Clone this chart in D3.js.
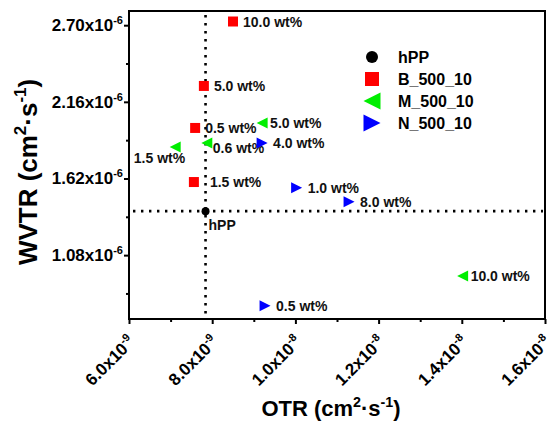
<!DOCTYPE html>
<html>
<head>
<meta charset="utf-8">
<script src="https://cdn.jsdelivr.net/npm/d3@7"></script>
<style>
  body { margin: 0; background: #fff; }
  svg { font-family: "Liberation Sans", Arial, sans-serif; font-weight: bold; }
  .frame { fill: none; stroke: #000; stroke-width: 2; }
  .axis path { display: none; }
  .axis line { stroke: #000; stroke-width: 2; }
  .guide { stroke: #000; stroke-width: 2.6; stroke-dasharray: 2.4 5.6; }
  .lbl { font-size: 14px; fill: #111; }
</style>
</head>
<body>
<svg width="554" height="422"></svg>
<script>
// データ
const seriesNames = ["hPP", "B_500_10", "M_500_10", "N_500_10"];

const hppOTR = [7.84e-9];
const hppWVTR = [1.39e-6];

const bLabels = ["10.0 wt%", "5.0 wt%", "0.5 wt%", "1.5 wt%"];
const bOTR = [8.50e-9, 7.80e-9, 7.59e-9, 7.56e-9];
const bWVTR = [2.726e-6, 2.272e-6, 1.976e-6, 1.595e-6];

const mLabels = ["1.5 wt%", "0.6 wt%", "5.0 wt%", "10.0 wt%"];
const mOTR = [7.11e-9, 7.87e-9, 9.20e-9, 14.02e-9];
const mWVTR = [1.842e-6, 1.870e-6, 2.011e-6, 0.933e-6];

const nLabels = ["4.0 wt%", "1.0 wt%", "8.0 wt%", "0.5 wt%"];
const nOTR = [9.20e-9, 10.03e-9, 11.29e-9, 9.27e-9];
const nWVTR = [1.870e-6, 1.555e-6, 1.456e-6, 0.724e-6];

const xTicks = [6e-9, 8e-9, 1e-8, 1.2e-8, 1.4e-8, 1.6e-8];
const xTickLabels = [["6.0x10", "-9"], ["8.0x10", "-9"], ["1.0x10", "-8"], ["1.2x10", "-8"], ["1.4x10", "-8"], ["1.6x10", "-8"]];
const yTicks = [2.70e-6, 2.16e-6, 1.62e-6, 1.08e-6];
const yTickLabels = [["2.70x10", "-6"], ["2.16x10", "-6"], ["1.62x10", "-6"], ["1.08x10", "-6"]];

// 描画設定
const plotLeft = 129, plotRight = 545, plotTop = 11, plotBottom = 319;
const svg = d3.select("svg");

const x = d3.scaleLinear().domain([6e-9, 1.6e-8]).range([plotLeft, plotRight]);
const y = d3.scaleLinear().domain([0.63e-6, 2.80e-6]).range([plotBottom, plotTop]);

const colors = { "hPP": "#000", "B_500_10": "#ff0000", "M_500_10": "#00ee00", "N_500_10": "#0000ff" };

// マーカー形状
function shape(kind, s) {
  const h = s / 2;
  if (kind === "circle") return d3.symbol(d3.symbolCircle, Math.PI * h * h)();
  if (kind === "square") return `M${-h},${-h}H${h}V${h}H${-h}Z`;
  if (kind === "left") return `M${-h},0L${h},${-h}L${h},${h}Z`;
  return `M${h},0L${-h},${-h}L${-h},${h}Z`;
}

const series = [
  { name: "hPP", kind: "circle", size: 8, labels: ["hPP"], xs: hppOTR, ys: hppWVTR, dx: 3, dy: 14 },
  { name: "B_500_10", kind: "square", size: 10, labels: bLabels, xs: bOTR, ys: bWVTR, dx: 10, dy: 0 },
  { name: "M_500_10", kind: "left", size: 11, labels: mLabels, xs: mOTR, ys: mWVTR, dx: 8, dy: 0 },
  { name: "N_500_10", kind: "right", size: 11, labels: nLabels, xs: nOTR, ys: nWVTR, dx: 11, dy: 0 }
];

// ラベル位置の個別調整
const nudge = {
  "B_500_10|1.5 wt%": { dx: 16 },
  "M_500_10|1.5 wt%": { dx: 10, dy: 11, anchor: "end" },
  "M_500_10|0.6 wt%": { dx: 6, dy: 5 }
};

// ガイド線（hPP基準）
svg.append("line").attr("class", "guide")
  .attr("x1", x(hppOTR[0])).attr("x2", x(hppOTR[0]))
  .attr("y1", plotTop + 4).attr("y2", plotBottom - 2);
svg.append("line").attr("class", "guide")
  .attr("x1", plotLeft + 4).attr("x2", plotRight - 2)
  .attr("y1", y(hppWVTR[0])).attr("y2", y(hppWVTR[0]));

// 軸
const xMinor = d3.range(7e-9, 1.6e-8, 2e-9);
const yMinor = [2.43e-6, 1.89e-6, 1.35e-6, 0.81e-6];

svg.append("g").attr("class", "axis").attr("transform", `translate(0,${plotBottom})`)
  .call(d3.axisBottom(x).tickValues(xTicks).tickSize(5).tickFormat(""));
svg.append("g").attr("class", "axis").attr("transform", `translate(0,${plotBottom})`)
  .call(d3.axisBottom(x).tickValues(xMinor).tickSize(3).tickFormat(""));
svg.append("g").attr("class", "axis").attr("transform", `translate(${plotLeft},0)`)
  .call(d3.axisLeft(y).tickValues(yTicks).tickSize(5).tickFormat(""));
svg.append("g").attr("class", "axis").attr("transform", `translate(${plotLeft},0)`)
  .call(d3.axisLeft(y).tickValues(yMinor).tickSize(3).tickFormat(""));

svg.append("rect").attr("class", "frame")
  .attr("x", plotLeft).attr("y", plotTop)
  .attr("width", plotRight - plotLeft).attr("height", plotBottom - plotTop);

// 目盛ラベル（上付き）
function supText(sel, main, sup, size) {
  sel.append("tspan").text(main);
  sel.append("tspan").attr("font-size", size * 0.65).attr("dy", -size * 0.42).text(sup);
}

yTicks.forEach((v, i) => {
  const t = svg.append("text").attr("x", plotLeft - 6).attr("y", y(v) + 6)
    .attr("text-anchor", "end").attr("font-size", 17);
  supText(t, yTickLabels[i][0], yTickLabels[i][1], 17);
});

xTicks.forEach((v, i) => {
  const t = svg.append("text").attr("font-size", 17).attr("text-anchor", "end")
    .attr("transform", `translate(${x(v) + 7},${343}) rotate(-45)`);
  supText(t, xTickLabels[i][0], xTickLabels[i][1], 17);
});

// 軸タイトル
function unitTitle(t, name, size) {
  const s = size * 0.65, up = size * 0.42;
  t.append("tspan").text(name + " (cm");
  t.append("tspan").attr("font-size", s).attr("dy", -up).text("2");
  t.append("tspan").attr("dy", up).text("\u00b7s");
  t.append("tspan").attr("font-size", s).attr("dy", -up).text("-1");
  t.append("tspan").attr("dy", up).text(")");
}

const xt = svg.append("text").attr("x", (plotLeft + plotRight) / 2 - 6).attr("y", 416)
  .attr("text-anchor", "middle").attr("font-size", 22);
unitTitle(xt, "OTR", 22);

const yt = svg.append("text").attr("transform", `translate(37,${172}) rotate(-90)`)
  .attr("text-anchor", "middle").attr("font-size", 26);
unitTitle(yt, "WVTR", 26);

// データ点とラベル
series.forEach(s => {
  s.xs.forEach((v, i) => {
    const px = x(v), py = y(s.ys[i]);
    svg.append("path").attr("d", shape(s.kind, s.size))
      .attr("transform", `translate(${px},${py})`)
      .attr("fill", colors[s.name]);
    const n = nudge[s.name + "|" + s.labels[i]] || {};
    svg.append("text").attr("class", "lbl")
      .attr("x", px + (n.dx ?? s.dx)).attr("y", py + (n.dy ?? s.dy) + 5)
      .attr("text-anchor", n.anchor || "start")
      .text(s.labels[i]);
  });
});

// 凡例
const legend = svg.append("g").attr("transform", "translate(372,57)");
const legendKinds = ["circle", "square", "left", "right"];
const legendSizes = [12, 14, 17, 17];
seriesNames.forEach((name, i) => {
  const g = legend.append("g").attr("transform", `translate(0,${i * 22})`);
  g.append("path").attr("d", shape(legendKinds[i], legendSizes[i])).attr("fill", colors[name]);
  g.append("text").attr("x", 26).attr("y", 6).attr("font-size", 16).text(name);
});
</script>
</body>
</html>
